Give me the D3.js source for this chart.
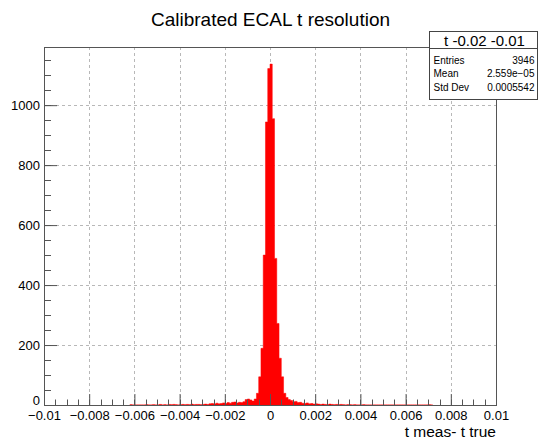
<html>
<head>
  <meta charset="utf-8">
  <title>Calibrated ECAL t resolution</title>
  <style>
    body { margin: 0; background: #fff; }
    text { font-family: "Liberation Sans", Arial, Helvetica, sans-serif; fill: #000; }
  </style>
  <script src="https://d3js.org/d3.v7.min.js"></script>
</head>
<body>
  <div id="chart"></div>
  <script>
{
    // histogram: bins of 0.0001 starting at binStart
    var binStart = -0.0062;
    var binWidth = 0.0001;
    var counts = [
      1, 0, 0, 0, 0, 0, 0, 1, 0, 0,      // -0.0062 .. -0.0053
      1, 0, 0, 2, 0, 1, 0, 2, 1, 2,      // -0.0052 .. -0.0043
      1, 0, 1, 2, 1, 2, 1, 3, 1, 2,      // -0.0042 .. -0.0033
      2, 1, 2, 3, 2, 4, 5, 3, 6, 4,      // -0.0032 .. -0.0023
      5, 7, 5, 8, 6, 9, 10, 7, 9, 8,     // -0.0022 .. -0.0013
      11, 18, 20, 17, 13, 20, 39, 94, 189, 500,   // -0.0012 .. -0.0003
      944, 1122, 1137, 955, 489, 272, 156, 94, 39, 25,  // -0.0002 .. 0.0007
      18, 15, 11, 12, 8, 9, 6, 5, 7, 4,  // 0.0008 .. 0.0017
      5, 3, 4, 3, 2, 3, 2, 1, 3, 2,      // 0.0018 .. 0.0027
      1, 2, 1, 2, 1, 0, 1, 1, 0, 1,      // 0.0028 .. 0.0037
      0, 0, 0, 1, 0, 0, 0, 0, 0, 0,      // 0.0038 .. 0.0047
      0, 0, 0, 0, 0, 0, 0, 0, 0, 0,      // 0.0048 .. 0.0057
      0, 0, 0, 0, 0, 0, 0, 0, 0, 0,      // 0.0058 .. 0.0067
      0, 0, 1, 0                          // 0.0068 .. 0.0071
    ];

    var xDomain = [-0.01, 0.01];
    var yMax = 1194;
    var xTicks = [-0.01, -0.008, -0.006, -0.004, -0.002, 0, 0.002, 0.004, 0.006, 0.008, 0.01];
    var xTickLabels = ["\u22120.01", "\u22120.008", "\u22120.006", "\u22120.004", "\u22120.002", "0",
                       "0.002", "0.004", "0.006", "0.008", "0.01"];
    var yTicks = [0, 200, 400, 600, 800, 1000];
    var yTickLabels = ["0", "200", "400", "600", "800", "1000"];

    var title = "Calibrated ECAL t resolution";
    var xTitle = "t meas- t true";
    var statsTitle = "t -0.02 -0.01";
    var statsNames = ["Entries", "Mean", "Std Dev"];
    var statsValues = ["3946", "2.559e\u221205", "0.0005542"];

    // layout
    var W = 539, H = 439;
    var margin = { top: 47, right: 43, bottom: 34, left: 44 },
        width = W - margin.left - margin.right,
        height = H - margin.top - margin.bottom;

    var x = d3.scaleLinear().domain(xDomain).range([0, width]);
    var y = d3.scaleLinear().domain([0, yMax]).range([height, 0]);

    var svg = d3.select("#chart").append("svg")
        .attr("width", W)
        .attr("height", H);

    svg.append("text")
        .attr("x", 270.5)
        .attr("y", 26)
        .attr("text-anchor", "middle")
        .style("font-size", "19px")
        .text(title);

    var g = svg.append("g")
        .attr("transform", "translate(" + margin.left + "," + margin.top + ")");

    // grid
    var grid = g.append("g")
        .attr("stroke", "#b8b8b8")
        .attr("stroke-dasharray", "3,3")
        .attr("stroke-width", 1);
    grid.selectAll(".vx")
        .data(xTicks.slice(1, -1))
        .enter().append("line")
        .attr("x1", function(d) { return Math.round(x(d)) + 0.5; })
        .attr("x2", function(d) { return Math.round(x(d)) + 0.5; })
        .attr("y1", 0)
        .attr("y2", height);
    grid.selectAll(".hy")
        .data(yTicks.slice(1))
        .enter().append("line")
        .attr("x1", 0)
        .attr("x2", width)
        .attr("y1", function(d) { return Math.round(y(d)) + 0.5; })
        .attr("y2", function(d) { return Math.round(y(d)) + 0.5; });

    // histogram as a step area
    var bins = counts.map(function(c, i) { return { x0: binStart + i * binWidth, n: c }; });
    bins.push({ x0: binStart + counts.length * binWidth, n: counts[counts.length - 1] });

    var area = d3.area()
        .curve(d3.curveStepAfter)
        .x(function(d) { return x(d.x0); })
        .y0(y(0))
        .y1(function(d) { return y(d.n); });

    g.append("path")
        .datum(bins)
        .attr("fill", "#ff0000")
        .attr("stroke", "#ff0000")
        .attr("stroke-width", 0.5)
        .attr("d", area);

    // frame
    g.append("rect")
        .attr("x", 0.5)
        .attr("y", 0.5)
        .attr("width", width)
        .attr("height", height)
        .attr("fill", "none")
        .attr("stroke", "#555");

    // minor ticks
    var xMinor = d3.range(-0.01, 0.0100001, 0.0005);
    var yMinor = d3.range(0, yMax, 50);
    g.append("g").attr("stroke", "#555").selectAll("line")
        .data(xMinor)
        .enter().append("line")
        .attr("x1", function(d) { return Math.round(x(d)) + 0.5; })
        .attr("x2", function(d) { return Math.round(x(d)) + 0.5; })
        .attr("y1", height)
        .attr("y2", height - 5.5);
    g.append("g").attr("stroke", "#555").selectAll("line")
        .data(yMinor)
        .enter().append("line")
        .attr("x1", 0)
        .attr("x2", 7)
        .attr("y1", function(d) { return Math.round(y(d)) + 0.5; })
        .attr("y2", function(d) { return Math.round(y(d)) + 0.5; });

    // axes (ticks point inwards like ROOT)
    var xAxis = g.append("g")
        .attr("transform", "translate(0," + height + ")")
        .call(d3.axisBottom(x)
            .tickValues(xTicks)
            .tickSize(-11)
            .tickSizeOuter(0)
            .tickPadding(6)
            .tickFormat(function(d, i) { return xTickLabels[i]; }));

    var yAxis = g.append("g")
        .call(d3.axisLeft(y)
            .tickValues(yTicks)
            .tickSize(-13)
            .tickSizeOuter(0)
            .tickPadding(4)
            .tickFormat(function(d, i) { return yTickLabels[i]; }));

    [xAxis, yAxis].forEach(function(a) {
        a.select(".domain").attr("stroke", "#555");
        a.selectAll(".tick line").attr("stroke", "#555");
        a.selectAll(".tick text")
            .style("font-family", "'Liberation Sans', Arial, sans-serif")
            .style("font-size", "13px")
            .attr("fill", "#000");
    });
    // the "0" label sits a little above the baseline, as in ROOT
    yAxis.selectAll(".tick text")
        .filter(function(d) { return d === 0; })
        .attr("dy", "-0.05em");

    svg.append("text")
        .attr("x", margin.left + width)
        .attr("y", 437)
        .attr("text-anchor", "end")
        .style("font-size", "15.5px")
        .text(xTitle);

    // stats box
    var sb = svg.append("g").attr("transform", "translate(429.5,31.5)");
    sb.append("rect")
        .attr("width", 108)
        .attr("height", 68)
        .attr("fill", "#fff")
        .attr("stroke", "#444");
    sb.append("line")
        .attr("x1", 0).attr("x2", 108)
        .attr("y1", 17).attr("y2", 17)
        .attr("stroke", "#444");
    sb.append("text")
        .attr("x", 55)
        .attr("y", 14)
        .attr("text-anchor", "middle")
        .style("font-size", "15px")
        .text(statsTitle);
    statsNames.forEach(function(name, i) {
        sb.append("text")
            .attr("x", 4)
            .attr("y", 32 + i * 13.5)
            .style("font-size", "10px")
            .text(name);
        sb.append("text")
            .attr("x", 105)
            .attr("y", 32 + i * 13.5)
            .attr("text-anchor", "end")
            .style("font-size", "10px")
            .text(statsValues[i]);
    });
}
  </script>
</body>
</html>
